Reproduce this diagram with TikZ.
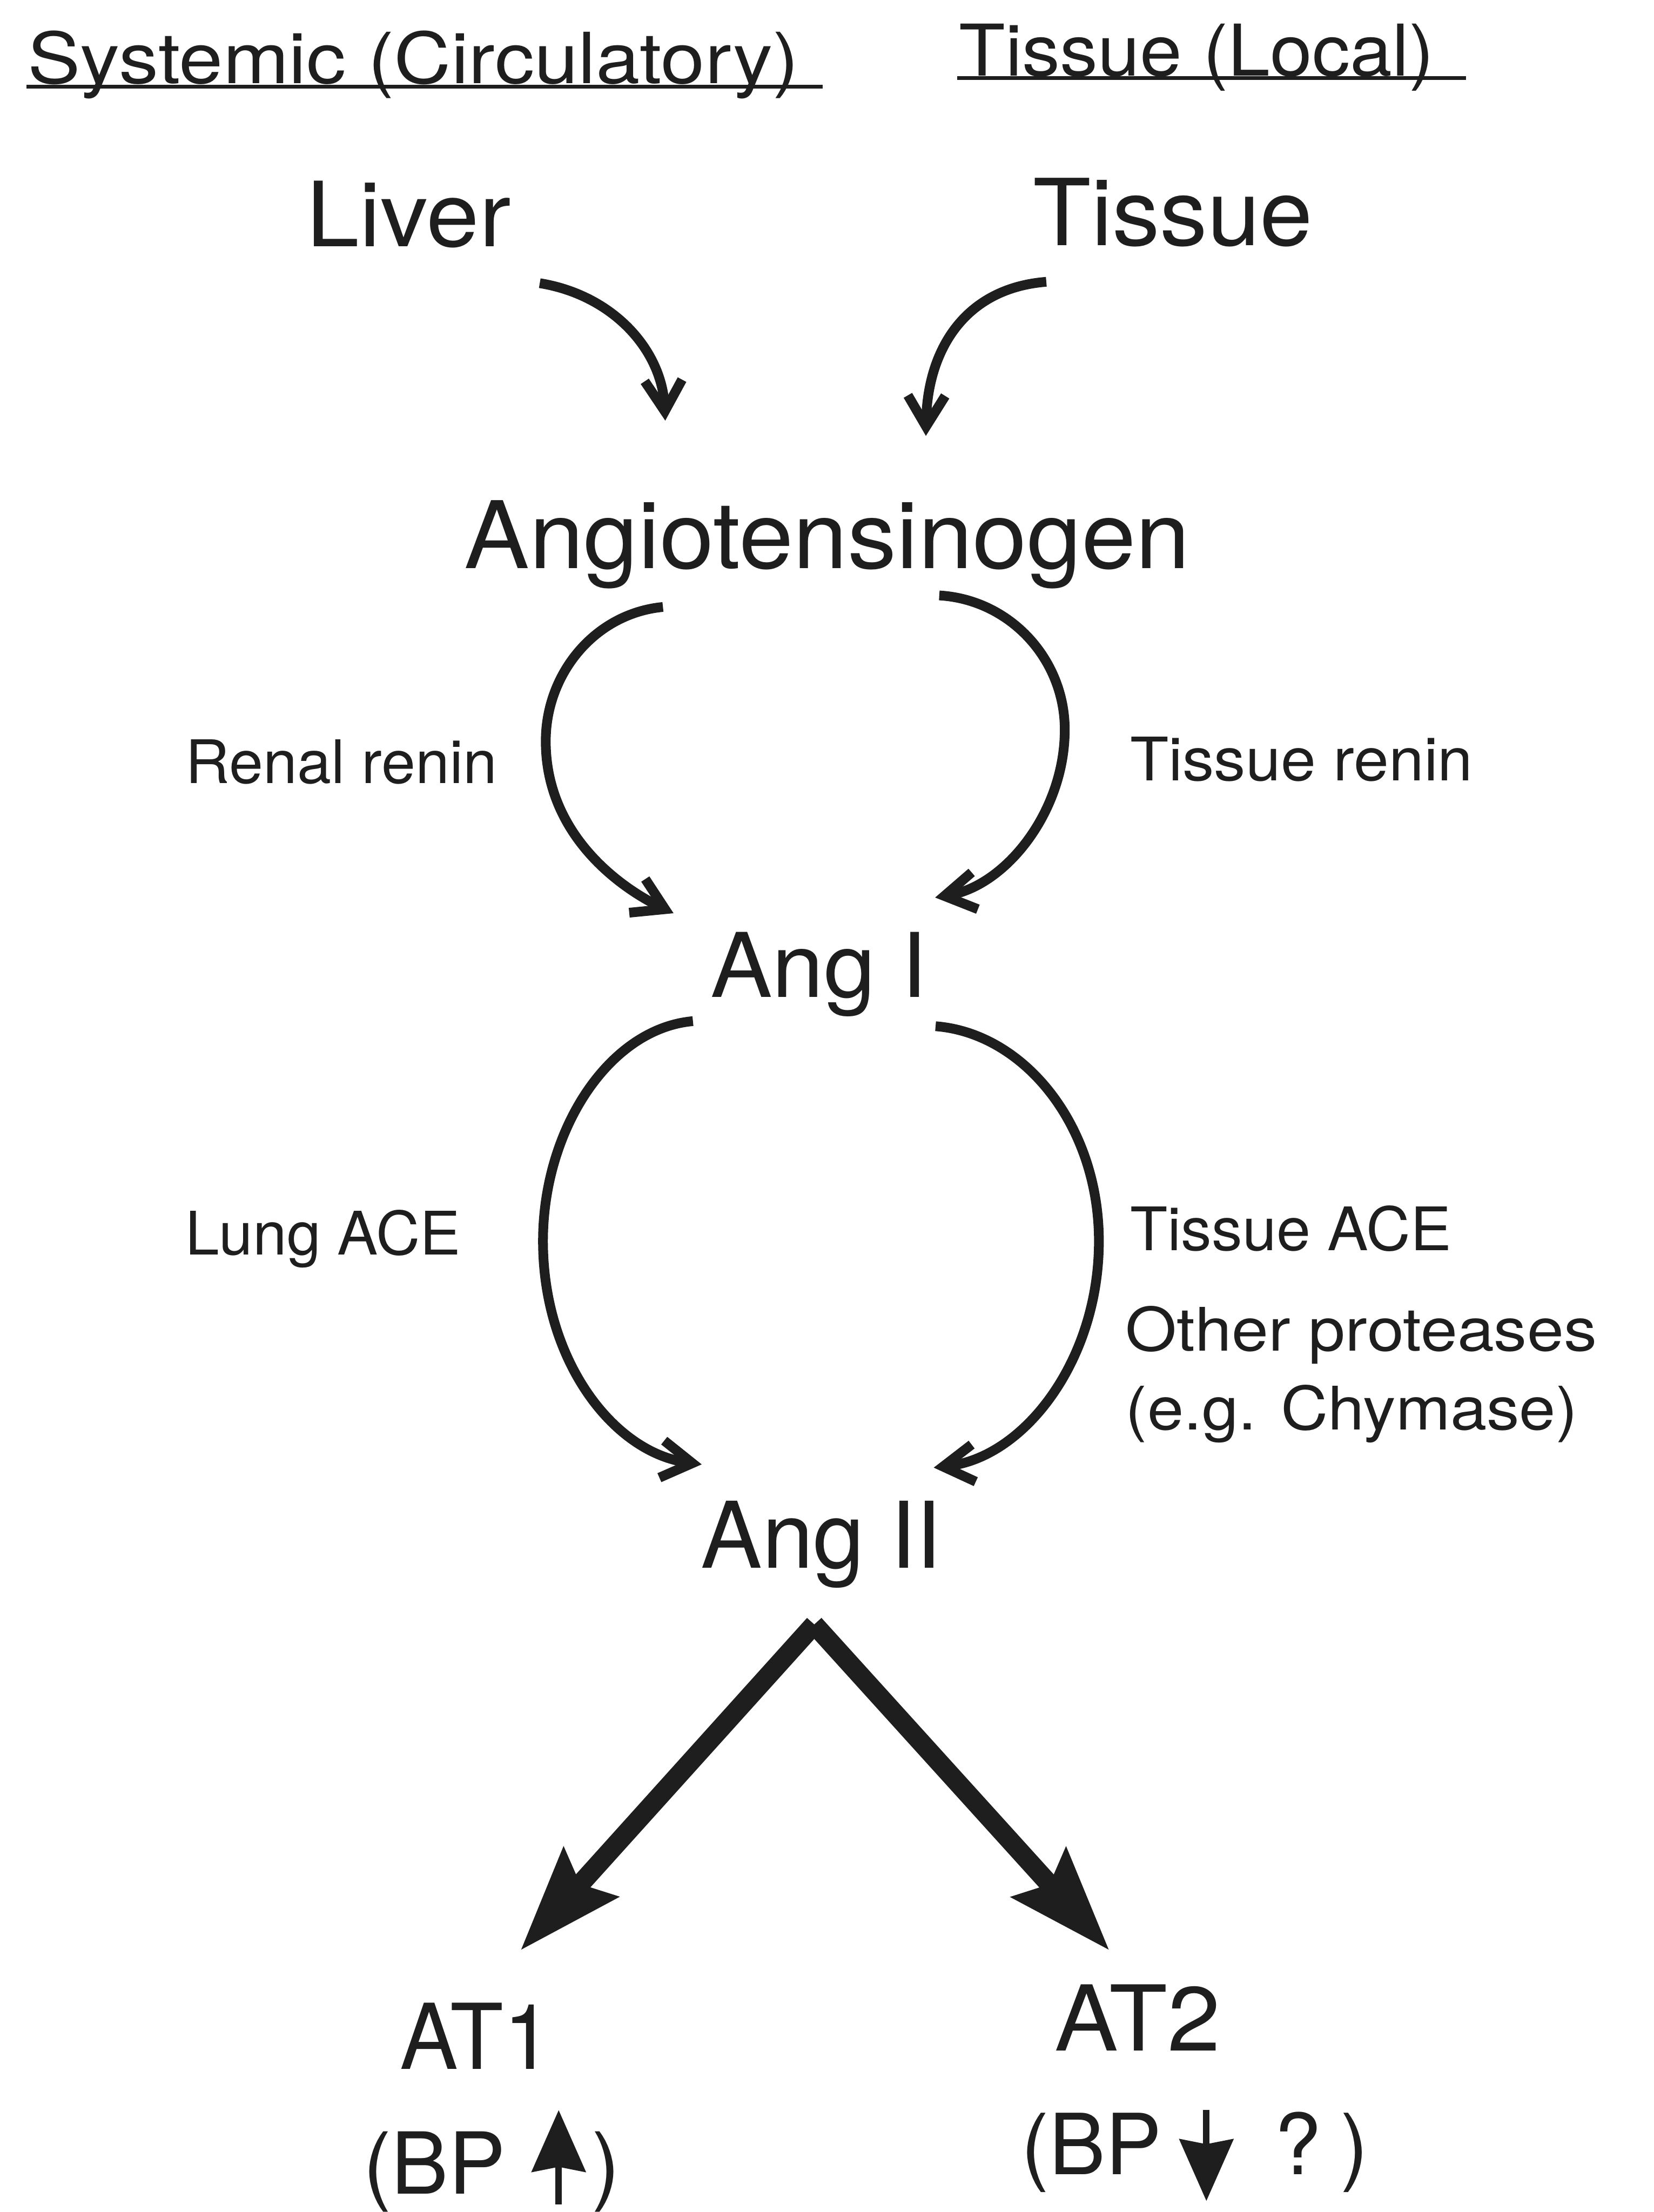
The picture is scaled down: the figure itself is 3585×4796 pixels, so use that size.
\documentclass[tikz,border=0pt]{standalone}
\usepackage{graphicx}
\usepackage{fontspec}
\setmainfont{TeX Gyre Heros}
\usetikzlibrary{arrows.meta}
\definecolor{ink}{HTML}{1E1E1E}
\newcommand{\fsz}[1]{\fontsize{#1pt}{#1pt}\selectfont}
\begin{document}
\begin{tikzpicture}[x=0.01cm,y=-0.01cm,
  lab/.style={inner sep=0pt, outer sep=0pt, text=ink, anchor=base},
  labw/.style={inner sep=0pt, outer sep=0pt, text=ink, anchor=base west},
  labe/.style={inner sep=0pt, outer sep=0pt, text=ink, anchor=base east},
  curvearrow/.style={draw=ink, line width=6pt, line cap=butt, -{Straight Barb[length=19pt,width=23pt]}},
  bigarrow/.style={draw=ink, line width=12pt, line cap=butt, -{Stealth[length=64pt,width=44pt,inset=9pt]}},
  smallarrow/.style={draw=ink, line width=4pt, line cap=butt, -{Stealth[length=38pt,width=33pt,inset=3pt]}},
  uline/.style={draw=ink, line width=2.4pt}]
\useasboundingbox (0,0) rectangle (3585,4796);
\fill[white] (0,0) rectangle (3585,4796);

% headers
\node[lab] (sys) at (896,181) {\fsz{43.5}\scalebox{1.12}[1]{Systemic (Circulatory)}};
\node[lab] (loc) at (2594,164) {\fsz{44}\scalebox{1.06}[1]{Tissue (Local)}};
\coordinate (sysL) at (57,188); \coordinate (sysR) at (1783,188);
\coordinate (locL) at (2075,169); \coordinate (locR) at (3178,169);
\draw[uline] (sysL) -- (sysR);
\draw[uline] (locL) -- (locR);

% main labels
\node[lab] (liver) at (886,534) {\fsz{55.5}\scalebox{1.055}[1]{Liver}};
\node[lab] (tissue) at (2543,532) {\fsz{57}\scalebox{1.027}[1]{Tissue}};
\node[lab] (agt) at (1793,1232) {\fsz{57.5}\scalebox{1.048}[1]{Angiotensinogen}};
\node[lab] (ang1) at (1775,2162) {\fsz{55}\scalebox{1.04}[1]{Ang I}};
\node[lab] (ang2) at (1780,3400) {\fsz{56.7}Ang II};
\node[lab] (at1) at (1032,4486) {\fsz{56}\scalebox{0.96}[1]{AT1}};
\node[lab] (at2) at (2466,4446) {\fsz{56}\scalebox{1.05}[1]{AT2}};

% enzyme labels
\node[labw] (rren) at (402,1698) {\fsz{37}\scalebox{1.02}[1]{Renal renin}};
\node[labw] (tren) at (2450,1692) {\fsz{37}\scalebox{1.05}[1]{Tissue renin}};
\node[labw] (lace) at (402,2720) {\fsz{37}\scalebox{1.015}[1]{Lung ACE}};
\node[labw] (tace) at (2450,2711) {\fsz{37}\scalebox{1.02}[1]{Tissue ACE}};
\node[labw] (oprot) at (2440,2929) {\fsz{37}\scalebox{1.10}[1]{Other proteases}};
\node[labw] (chym) at (2440,3100) {\fsz{37}\scalebox{1.09}[1]{(e.g. Chymase)}};

% BP labels
\node[labw] (bp1) at (787,4757) {\fsz{52.7}(BP};
\node[labe] (bp1c) at (1345,4757) {\fsz{52.7})};
\coordinate (up1bot) at (1211,4779); \coordinate (up1top) at (1211,4575);
\draw[smallarrow] (up1bot) -- (up1top);

\node[labw] (bp2) at (2213,4715) {\fsz{52}(BP};
\node[lab] (bp2q) at (2814,4715) {\fsz{52}?};
\node[labe] (bp2c) at (2967,4715) {\fsz{52})};
\coordinate (dn2top) at (2615,4575); \coordinate (dn2bot) at (2615,4772);
\draw[smallarrow] (dn2top) -- (dn2bot);

% Liver / Tissue -> Angiotensinogen
\coordinate (livS) at (1170,614); \coordinate (livE) at (1442,912);
\coordinate (tisS) at (2268,611); \coordinate (tisE) at (2007,945);
\draw[curvearrow] (livS) .. controls (1330,640) and (1435,760) .. (livE);
\draw[curvearrow] (tisS) .. controls (2090,625) and (2010,760) .. (tisE);

% Angiotensinogen -> Ang I
\coordinate (a0L) at (1437,1316); \coordinate (a0Lm) at (1183,1607); \coordinate (a1L) at (1460,1980);
\coordinate (a0R) at (2036,1291); \coordinate (a0Rm) at (2308,1582); \coordinate (a1R) at (2027,1946);
\draw[curvearrow] (a0L) .. controls (1290,1330) and (1183,1460) .. (a0Lm)
                         .. controls (1183,1810) and (1345,1925) .. (a1L);
\draw[curvearrow] (a0R) .. controls (2190,1300) and (2308,1430) .. (a0Rm)
                         .. controls (2308,1760) and (2180,1920) .. (a1R);

% Ang I -> Ang II
\coordinate (b0L) at (1502,2214); \coordinate (b0Lm) at (1177,2691); \coordinate (b1L) at (1521,3175);
\coordinate (b0R) at (2028,2225); \coordinate (b0Rm) at (2382,2691); \coordinate (b1R) at (2024,3182);
\draw[curvearrow] (b0L) .. controls (1320,2230) and (1177,2450) .. (b0Lm)
                         .. controls (1177,2950) and (1330,3150) .. (b1L);
\draw[curvearrow] (b0R) .. controls (2220,2240) and (2382,2440) .. (b0Rm)
                         .. controls (2382,2950) and (2220,3160) .. (b1R);

% Ang II -> AT1 / AT2
\coordinate (apex) at (1765,3522);
\coordinate (at1tip) at (1128,4229);
\coordinate (at2tip) at (2405,4229);
\draw[bigarrow] (apex) -- (at1tip);
\draw[bigarrow] (apex) -- (at2tip);
\end{tikzpicture}
\end{document}
